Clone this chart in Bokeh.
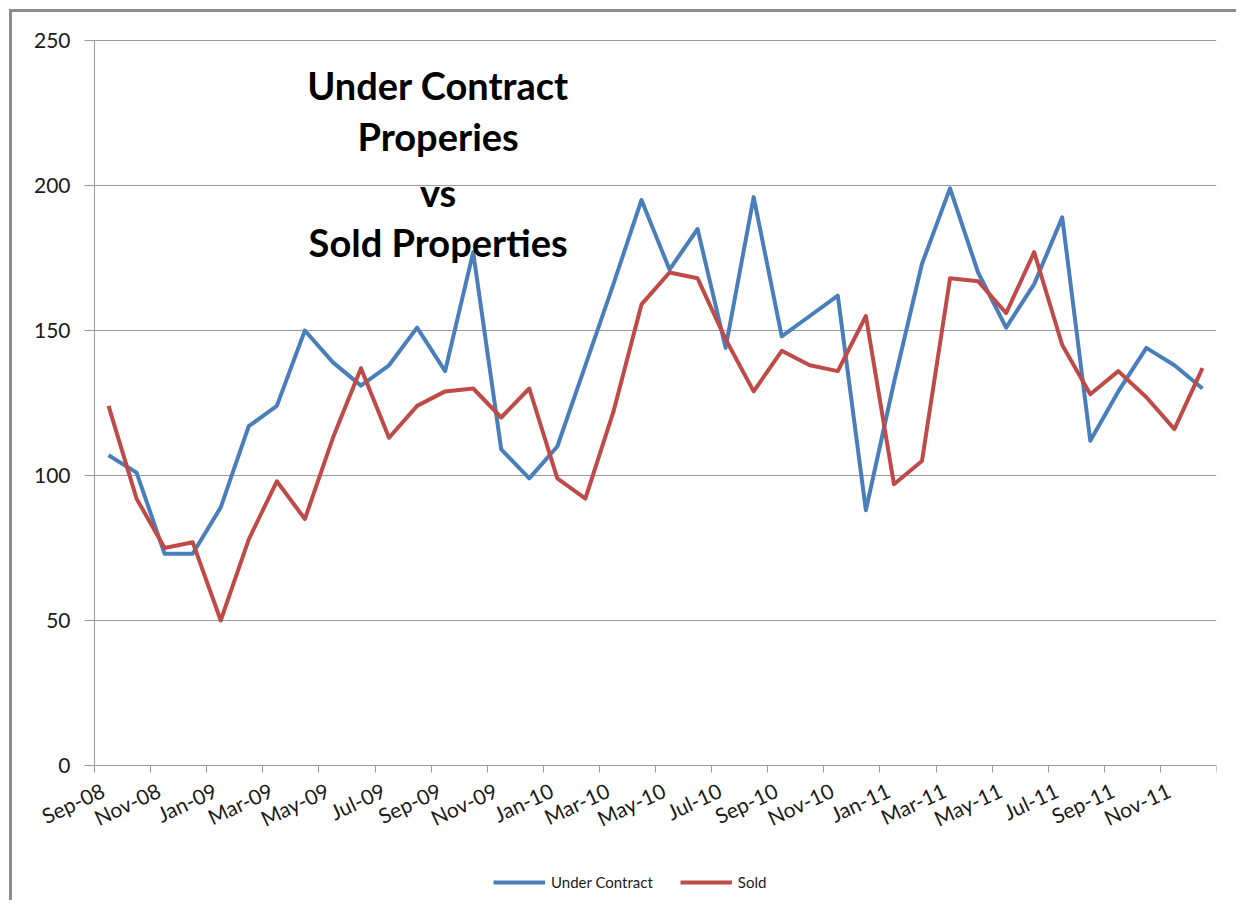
from bokeh.plotting import figure
from bokeh.models import FixedTicker, Legend, LegendItem, ColumnDataSource
from bokeh.core.properties import value
from bokeh.embed import file_html
from bokeh.resources import INLINE

months = ["Sep-08", "Oct-08", "Nov-08", "Dec-08",
          "Jan-09", "Feb-09", "Mar-09", "Apr-09", "May-09", "Jun-09",
          "Jul-09", "Aug-09", "Sep-09", "Oct-09", "Nov-09", "Dec-09",
          "Jan-10", "Feb-10", "Mar-10", "Apr-10", "May-10", "Jun-10",
          "Jul-10", "Aug-10", "Sep-10", "Oct-10", "Nov-10", "Dec-10",
          "Jan-11", "Feb-11", "Mar-11", "Apr-11", "May-11", "Jun-11",
          "Jul-11", "Aug-11", "Sep-11", "Oct-11", "Nov-11", "Dec-11"]

under_contract = [107, 101, 73, 73, 89, 117, 124, 150, 139, 131, 138, 151, 136, 177, 109, 99,
                  110, 138, 166, 195, 171, 185, 144, 196, 148, 155, 162, 88,
                  132, 173, 199, 170, 151, 166, 189, 112, 129, 144, 138, 130]

sold = [124, 92, 75, 77, 50, 78, 98, 85, 113, 137, 113, 124, 129, 130, 120, 130,
        99, 92, 122, 159, 170, 168, 147, 129, 143, 138, 136, 155,
        97, 105, 168, 167, 156, 177, 145, 128, 136, 127, 116, 137]

tick_labels = months[::2]
y_ticks = [0, 50, 100, 150, 200, 250]
title_lines = ["Under Contract", "Properies", "vs", "Sold Properties"]

FONT = "Lato"
BLUE = "#4A7EBB"
RED = "#BE4B48"
GRID = "#9a9a9a"

n = len(months)
xs = [i + 0.5 for i in range(n)]
source = ColumnDataSource(dict(x=xs, uc=under_contract, sold=sold, month=months))

# the frame extends left of, above and below the axes, so the axes (fixed at 0)
# with their labels and the legend are all drawn inside it
PLOT_W, PLOT_H = 1122, 725
PX_PER_X = PLOT_W / n
PX_PER_Y = PLOT_H / 250
LEFT_PX, BELOW_PX, ABOVE_PX = 82, 135, 20
p = figure(frame_width=PLOT_W + LEFT_PX, frame_height=PLOT_H + BELOW_PX + ABOVE_PX,
           x_range=(-LEFT_PX / PX_PER_X, n),
           y_range=(-BELOW_PX / PX_PER_Y, 250 + ABOVE_PX / PX_PER_Y),
           output_backend="svg", toolbar_location=None,
           min_border_left=0, min_border_right=20, min_border_top=8, min_border_bottom=0)
p.styles = {"margin-left": "9px", "margin-top": "9px",
            "border-left": "3px solid #8c8c8c", "border-top": "3px solid #8c8c8c"}
p.outline_line_color = None
p.background_fill_color = "white"
p.border_fill_color = "white"

# horizontal gridlines, only across the plot area
p.xgrid.visible = False
p.ygrid.visible = False
p.segment(x0=[0] * len(y_ticks), x1=[n] * len(y_ticks), y0=y_ticks, y1=y_ticks,
          line_color=GRID, line_width=1)

# y axis, fixed at x = 0
p.yaxis.fixed_location = 0
p.yaxis.ticker = FixedTicker(ticks=y_ticks)
p.yaxis.bounds = (0, 250)
p.yaxis.axis_line_color = GRID
p.yaxis.major_tick_line_color = GRID
p.yaxis.major_tick_out = 10
p.yaxis.major_tick_in = 0
p.yaxis.minor_tick_line_color = None
p.yaxis.major_label_text_font = FONT
p.yaxis.major_label_text_font_size = "21px"
p.yaxis.major_label_text_color = "#1a1a1a"
p.yaxis.major_label_standoff = 14

# x axis, fixed at value 0
label_pos = [i + 0.3 for i in range(0, n, 2)]
p.xaxis.fixed_location = 0
p.xaxis.bounds = (0, n)
p.xaxis.ticker = FixedTicker(ticks=label_pos, minor_ticks=list(range(0, n + 1, 2)))
p.xaxis.major_label_overrides = {pos: lab for pos, lab in zip(label_pos, tick_labels)}
p.xaxis.axis_line_color = GRID
p.xaxis.major_tick_line_color = None
p.xaxis.major_tick_out = 0
p.xaxis.major_tick_in = 0
p.xaxis.minor_tick_line_color = GRID
p.xaxis.minor_tick_out = 7
p.xaxis.minor_tick_in = 0
p.xaxis.major_label_orientation = 0.44
p.xaxis.major_label_text_font = FONT
p.xaxis.major_label_text_font_size = "21px"
p.xaxis.major_label_text_color = "#1a1a1a"
p.xaxis.major_label_standoff = 16

r1 = p.line("x", "uc", source=source, line_color=BLUE, line_width=4, line_join="round")
r2 = p.line("x", "sold", source=source, line_color=RED, line_width=4, line_join="round")

# title inside the plot area
p.text(x=[12.25] * 4, y=[234.5, 217.0, 197.7, 180.5], text=title_lines,
       text_font=value(FONT), text_font_style="bold", text_font_size="38px",
       text_align="center", text_baseline="alphabetic", text_color="black")

legend = Legend(items=[LegendItem(label="Under Contract", renderers=[r1]),
                       LegendItem(label="Sold", renderers=[r2])],
                orientation="horizontal", location=(481, 9),
                border_line_color=None, background_fill_alpha=0,
                label_text_font=FONT, label_text_font_size="15px",
                label_text_color="#1a1a1a",
                glyph_width=52, glyph_height=12, spacing=27, label_standoff=6,
                margin=0, padding=0)
p.add_layout(legend, "center")

open("out.html", "w").write(file_html(p, INLINE))
